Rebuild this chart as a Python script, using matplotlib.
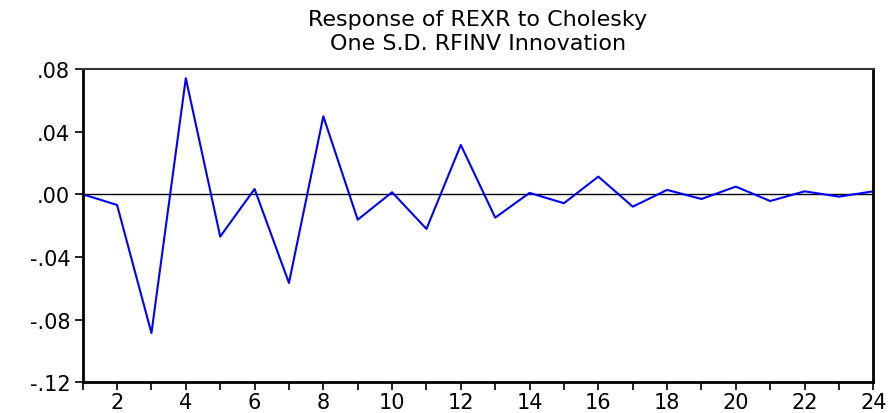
import matplotlib
matplotlib.use("Agg")
import matplotlib.pyplot as plt

periods = list(range(1, 25))
response = [0.0, -0.0068, -0.0886, 0.0741, -0.027, 0.0034, -0.0566, 0.0498,
            -0.0162, 0.0013, -0.0221, 0.0315, -0.0149, 0.0009, -0.0057, 0.0113,
            -0.0079, 0.0028, -0.003, 0.0049, -0.0043, 0.0019, -0.0015, 0.0019]
yticks = [-0.12, -0.08, -0.04, 0.00, 0.04, 0.08]
ytick_labels = ["-.12", "-.08", "-.04", ".00", ".04", ".08"]
xtick_labels_at = list(range(2, 25, 2))
title = "Response of REXR to Cholesky\nOne S.D. RFINV Innovation"

plt.rcParams['font.family'] = ['DejaVu Sans']

fig = plt.figure(figsize=(8.93, 4.14), dpi=100)
ax = fig.add_axes([0.0926, 0.0742, 0.8854, 0.7568])

ax.axhline(0, color="black", linewidth=1.0, zorder=1)
ax.plot(periods, response, color="#0000FF", linewidth=1.5, zorder=2)

ax.set_xlim(1, 24)
ax.set_ylim(-0.12, 0.08)
ax.set_yticks(yticks)
ax.set_yticklabels(ytick_labels)
ax.set_xticks(periods)
ax.set_xticklabels([str(p) if p in xtick_labels_at else "" for p in periods])

ax.tick_params(axis="both", direction="out", length=6, width=1.2, labelsize=15, colors="black")
ax.tick_params(axis="y", pad=3)
ax.tick_params(axis="x", pad=1)

for side in ["left", "bottom", "right"]:
    ax.spines[side].set_linewidth(2.0)
ax.spines["top"].set_linewidth(1.5)
ax.spines["top"].set_color("#333333")

fig.text(0.535, 0.975, title, ha="center", va="top", fontsize=16, linespacing=1.2)

fig.savefig("out.png", dpi=100)
